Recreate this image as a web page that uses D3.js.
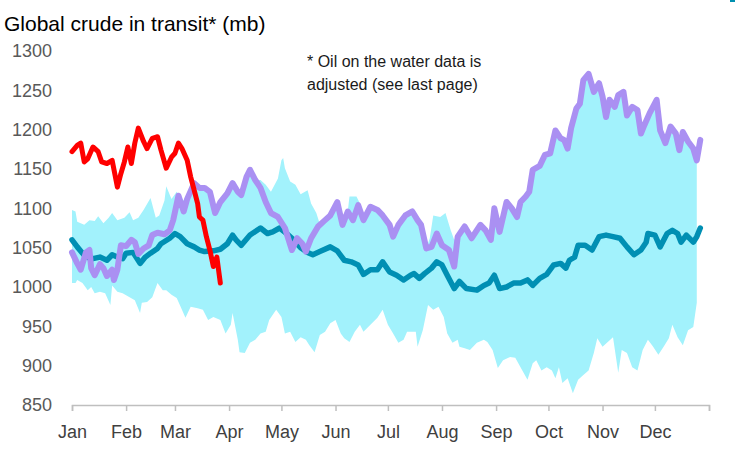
<!DOCTYPE html>
<html>
<head>
<meta charset="utf-8">
<script src="https://cdn.jsdelivr.net/npm/d3@7"></script>
<style>
  html, body { margin: 0; padding: 0; background: #fff; }
  svg { display: block; font-family: "Liberation Sans", Arial, sans-serif; }
</style>
</head>
<body>
<svg id="chart" width="735" height="462"></svg>
<script>
// ---------- DATA (day of year, value in mb) ----------
const monthLabels = ["Jan","Feb","Mar","Apr","May","Jun","Jul","Aug","Sep","Oct","Nov","Dec"];
const monthStartDays = [0,31,59,90,120,151,181,212,243,273,304,334,365];
const yTicks = [850,900,950,1000,1050,1100,1150,1200,1250,1300];

// Range band (upper and lower edges)
const bandUpper = [[0,1098],[2,1096],[3,1083],[7,1079],[10,1085],[13,1084],[15,1090],[18,1081],[21,1088],[23,1094],[26,1085],[30,1088],[33,1095],[35,1085],[38,1088],[41,1098],[45,1113],[48,1088],[50,1091],[53,1110],[54,1128],[57,1112],[60,1121],[61,1118],[64,1110],[66,1112],[70,1132],[73,1126],[76,1126],[79,1121],[82,1096],[85,1108],[89,1119],[92,1132],[95,1121],[97,1117],[100,1140],[102,1149],[105,1136],[108,1136],[111,1130],[114,1121],[118,1138],[120,1161],[121,1164],[122,1151],[125,1134],[128,1130],[131,1118],[135,1123],[137,1106],[140,1094],[142,1080],[145,1085],[148,1091],[152,1108],[155,1079],[158,1096],[159,1115],[163,1115],[165,1106],[167,1085],[171,1102],[175,1098],[178,1091],[182,1079],[184,1064],[187,1079],[191,1091],[195,1096],[198,1085],[200,1079],[203,1049],[205,1062],[207,1091],[211,1089],[214,1094],[217,1072],[219,1060],[221,1064],[225,1077],[229,1062],[234,1079],[237,1072],[240,1060],[242,1100],[245,1070],[249,1108],[252,1100],[255,1089],[257,1108],[260,1115],[262,1121],[264,1149],[268,1154],[271,1168],[274,1170],[277,1199],[280,1189],[282,1187],[284,1176],[286,1202],[289,1227],[291,1233],[293,1263],[296,1271],[299,1248],[302,1259],[304,1242],[306,1216],[308,1238],[311,1229],[313,1244],[316,1248],[318,1218],[321,1229],[324,1225],[326,1195],[328,1206],[331,1221],[335,1238],[337,1199],[340,1183],[343,1204],[346,1195],[348,1174],[350,1197],[353,1185],[356,1176],[358,1161]];

const bandLower = [[0,1005],[2,1005],[3,1009],[6,1005],[9,996],[11,1000],[13,992],[16,994],[19,992],[22,977],[23,1002],[26,994],[29,992],[33,987],[36,983],[39,967],[40,980],[43,981],[46,987],[49,1005],[52,996],[54,996],[57,990],[60,986],[63,971],[65,961],[68,975],[72,973],[75,971],[78,958],[81,962],[85,958],[88,941],[91,952],[92,967],[95,933],[96,917],[99,916],[102,929],[105,933],[108,941],[111,943],[113,958],[117,971],[120,962],[122,941],[125,943],[128,930],[131,936],[134,933],[136,926],[139,917],[142,939],[145,943],[148,954],[151,958],[154,941],[156,935],[159,930],[162,943],[165,952],[167,943],[171,952],[175,961],[178,971],[181,952],[184,941],[187,929],[190,933],[192,943],[197,943],[198,924],[201,945],[204,977],[207,971],[210,975],[213,962],[215,941],[218,929],[221,933],[222,924],[225,922],[228,920],[232,929],[236,933],[238,930],[241,920],[244,897],[247,907],[251,911],[254,910],[257,898],[261,882],[264,903],[266,907],[269,894],[272,898],[275,894],[277,884],[279,898],[281,878],[284,884],[287,865],[290,882],[293,888],[296,894],[299,916],[301,935],[304,924],[307,930],[310,936],[313,891],[315,920],[318,916],[321,898],[324,894],[327,920],[330,933],[333,924],[336,914],[339,924],[342,935],[344,952],[347,936],[350,926],[353,945],[356,949],[358,980]];

// Purple series
const purpleSeries = [[0,1044],[3,1030],[5,1022],[8,1044],[10,1047],[11,1024],[13,1015],[16,1029],[18,1024],[20,1014],[23,1022],[24,1009],[26,1022],[28,1053],[31,1052],[34,1060],[36,1057],[38,1042],[41,1049],[44,1053],[46,1066],[49,1069],[53,1067],[56,1072],[58,1085],[61,1116],[64,1096],[66,1112],[70,1132],[73,1126],[76,1126],[79,1121],[82,1094],[85,1108],[89,1119],[92,1132],[95,1121],[97,1117],[100,1140],[102,1149],[105,1136],[108,1126],[111,1108],[114,1094],[118,1089],[122,1075],[126,1047],[129,1062],[132,1055],[134,1045],[137,1062],[141,1077],[145,1085],[148,1091],[152,1108],[155,1079],[158,1096],[161,1085],[164,1104],[167,1085],[171,1102],[175,1098],[178,1091],[182,1079],[184,1064],[187,1079],[191,1091],[195,1096],[198,1085],[200,1079],[203,1049],[206,1051],[209,1068],[212,1053],[216,1047],[219,1026],[221,1064],[225,1077],[229,1062],[234,1079],[237,1072],[240,1060],[242,1100],[245,1070],[249,1108],[252,1100],[255,1089],[257,1108],[260,1115],[262,1121],[264,1149],[268,1154],[271,1168],[274,1170],[277,1199],[280,1189],[282,1187],[284,1176],[286,1202],[289,1227],[291,1233],[293,1263],[296,1271],[299,1248],[302,1259],[304,1242],[306,1216],[308,1238],[311,1229],[313,1244],[316,1248],[318,1218],[321,1229],[324,1225],[326,1195],[328,1206],[331,1221],[335,1238],[337,1199],[340,1183],[343,1204],[346,1195],[348,1174],[350,1197],[353,1185],[356,1176],[358,1161],[360,1187]];

// Teal series
const tealSeries = [[0,1060],[3,1051],[6,1043],[8,1038],[12,1036],[16,1038],[20,1034],[23,1041],[26,1038],[29,1036],[31,1043],[35,1044],[39,1030],[42,1038],[45,1043],[49,1049],[51,1055],[56,1062],[59,1068],[62,1064],[66,1055],[70,1051],[73,1047],[76,1045],[81,1046],[85,1048],[89,1055],[92,1066],[94,1060],[97,1053],[102,1066],[108,1075],[112,1068],[115,1070],[119,1075],[123,1068],[127,1060],[131,1050],[135,1044],[138,1041],[142,1045],[148,1051],[152,1046],[156,1034],[160,1032],[164,1028],[167,1016],[171,1022],[175,1022],[178,1032],[182,1019],[186,1015],[190,1009],[194,1015],[196,1017],[199,1011],[202,1017],[206,1024],[209,1032],[212,1028],[215,1015],[219,998],[222,1007],[226,998],[232,996],[236,1002],[239,1005],[242,1015],[245,998],[249,1000],[253,1005],[257,1005],[261,1009],[264,1002],[268,1011],[272,1016],[276,1028],[280,1030],[283,1024],[285,1034],[288,1038],[290,1053],[294,1053],[298,1047],[302,1064],[306,1066],[310,1064],[314,1062],[318,1051],[322,1041],[326,1047],[329,1057],[330,1068],[334,1066],[337,1051],[341,1068],[344,1072],[347,1068],[349,1057],[352,1066],[356,1057],[358,1064],[360,1075]];

// Red series (current year)
const redSeries = [[0,1172],[3,1180],[5,1183],[7,1159],[9,1163],[12,1178],[15,1172],[17,1159],[20,1157],[23,1161],[26,1127],[28,1144],[30,1159],[32,1178],[34,1157],[36,1183],[38,1202],[41,1185],[43,1176],[46,1189],[49,1191],[51,1174],[54,1151],[57,1165],[59,1170],[61,1183],[63,1176],[66,1161],[68,1140],[70,1123],[72,1106],[73,1089],[75,1085],[77,1064],[79,1047],[81,1026],[83,1038],[85,1005]];

const titleText = "Global crude in transit* (mb)";
const noteLines = ["* Oil on the water data is", "adjusted (see last page)"];

// ---------- CHART ----------
const svg = d3.select("#chart");

const x = d3.scaleLinear().domain([0, 365]).range([72, 709]);
const y = d3.scaleLinear().domain([850, 1300]).range([405, 51]);

// band polygon: upper edge forward, lower edge backward
const bandPts = bandUpper.concat(bandLower.slice().reverse());
svg.append("path")
  .attr("d", d3.line().x(d => x(d[0])).y(d => y(d[1]))(bandPts) + "Z")
  .attr("fill", "#A2F2FC");

const line = d3.line().x(d => x(d[0])).y(d => y(d[1])).curve(d3.curveLinear);

svg.append("path").datum(tealSeries)
  .attr("d", line).attr("fill", "none")
  .attr("stroke", "#008FB3").attr("stroke-width", 5.5)
  .attr("stroke-linejoin", "round").attr("stroke-linecap", "round");

svg.append("path").datum(purpleSeries)
  .attr("d", line).attr("fill", "none")
  .attr("stroke", "#AA90F2").attr("stroke-width", 6)
  .attr("stroke-linejoin", "round").attr("stroke-linecap", "round");

svg.append("path").datum(redSeries)
  .attr("d", line).attr("fill", "none")
  .attr("stroke", "#FF0000").attr("stroke-width", 5)
  .attr("stroke-linejoin", "round").attr("stroke-linecap", "round");

// Y axis
const yAxis = svg.append("g")
  .attr("transform", "translate(72,0)")
  .call(d3.axisLeft(y).tickValues(yTicks).tickSize(0).tickPadding(20).tickFormat(d3.format("d")));
yAxis.select(".domain").remove();
yAxis.selectAll("text")
  .attr("font-family", "Liberation Sans, Arial, sans-serif")
  .attr("font-size", 18).attr("fill", "#595959");

// X axis
const xAxis = svg.append("g")
  .attr("transform", "translate(0,405)")
  .call(d3.axisBottom(x).tickValues(monthStartDays).tickSize(6).tickPadding(14)
    .tickFormat((d, i) => monthLabels[i] || ""));
xAxis.select(".domain").attr("stroke", "#BFBFBF").attr("stroke-width", 1.5);
xAxis.selectAll(".tick line").attr("stroke", "#BFBFBF").attr("stroke-width", 1.5);
xAxis.selectAll("text")
  .attr("font-family", "Liberation Sans, Arial, sans-serif")
  .attr("font-size", 18).attr("fill", "#404040");

// Title
svg.append("text")
  .attr("x", 4).attr("y", 31)
  .attr("font-size", 21).attr("fill", "#000")
  .text(titleText);

// Note
svg.selectAll(".note").data(noteLines).enter().append("text")
  .attr("class", "note")
  .attr("x", 307).attr("y", (d, i) => 67 + i * 22.5)
  .attr("font-size", 16).attr("fill", "#1a1a1a")
  .text(d => d);

// small corner mark
svg.append("rect").attr("x", 730).attr("y", 0).attr("width", 5).attr("height", 2).attr("fill", "#0090B0");
</script>
</body>
</html>
